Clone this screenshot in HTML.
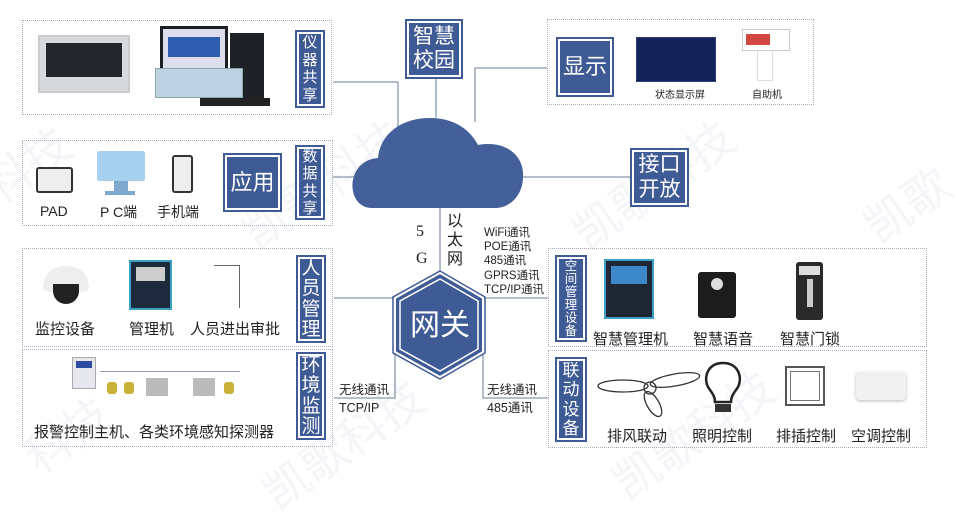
<!DOCTYPE html>
<html><head><meta charset="utf-8"><style>
*{margin:0;padding:0;box-sizing:border-box}
body{width:956px;height:476px;background:#fff;position:relative;overflow:hidden;font-family:"Liberation Sans","Noto Sans CJK SC",sans-serif;color:#222}
.a{position:absolute}
.box{position:absolute;border:1px dotted #aab}
.lab{position:absolute;background:#3f5b95;border:2px solid #3f5b95;box-shadow:inset 0 0 0 2px #fff;color:#fff;display:flex;align-items:center;justify-content:center;text-align:center;line-height:1.08}
.v{flex-direction:column;justify-content:space-evenly;line-height:1}
.v span{display:block}
.t{font-size:15px;white-space:nowrap}
.wm{position:absolute;color:rgba(120,130,160,0.08);font-size:46px;transform:rotate(-35deg);white-space:nowrap;font-family:"Noto Sans CJK SC",sans-serif}
</style></head><body>

<div class="wm" style="left:-20px;top:130px">科技</div>
<div class="wm" style="left:230px;top:150px">凯歌科技</div>
<div class="wm" style="left:560px;top:150px">凯歌科技</div>
<div class="wm" style="left:860px;top:170px">凯歌</div>
<div class="wm" style="left:20px;top:400px">科技</div>
<div class="wm" style="left:250px;top:410px">凯歌科技</div>
<div class="wm" style="left:600px;top:400px">凯歌科技</div>

<svg class="a" style="left:0;top:0" width="956" height="476">
<g stroke="#8a97ad" stroke-width="1.3" fill="none">
<path d="M333 82 H398 V128"/>
<path d="M436 79 V118"/>
<path d="M475 122 V68 H547"/>
<path d="M333 177 H356"/>
<path d="M522 177 H630"/>
<path d="M440 208 V273"/>
<path d="M334 298 H395 V352"/>
<path d="M395 352 V398 H334"/>
<path d="M548 298 H483 V352"/>
<path d="M483 352 V398 H548"/>
</g>
<path d="M372 208 C345 208 345 160 378 158 C380 135 400 118 430 118 C455 118 470 130 478 145 C505 140 525 155 523 178 C522 198 508 208 495 208 Z" fill="#43609a"/>
<polygon points="440,273 483,298 483,352 440,377 395,352 395,298" fill="#3f5b95" stroke="#fff" stroke-width="2"/>
<polygon points="440,279 478,301 478,349 440,371 400,349 400,301" fill="none" stroke="#fff" stroke-width="1.5"/>
<polygon points="440,271 485,297 485,353 440,379 393,353 393,297" fill="none" stroke="#3f5b95" stroke-width="1.5"/>
<text x="440" y="335" fill="#fff" font-size="30" text-anchor="middle" font-family="Noto Sans CJK SC,sans-serif">网关</text>
</svg>

<!-- Box1 instruments -->
<div class="box" style="left:22px;top:20px;width:310px;height:95px"></div>
<div class="a" style="left:38px;top:35px;width:92px;height:58px;background:#d7d9dc;border:2px solid #c9ccd0"><div style="margin:6px;height:34px;background:#23272b"></div></div>
<div class="a" style="left:160px;top:26px;width:68px;height:48px;background:#dde;border:3px solid #1b1e22"><div style="margin:8px 5px;height:20px;background:#2f5cae"></div></div>
<div class="a" style="left:230px;top:33px;width:34px;height:68px;background:#1e2125"></div>
<div class="a" style="left:155px;top:68px;width:88px;height:30px;background:#bdd2e0;border:1px solid #8aa"></div>
<div class="a" style="left:200px;top:98px;width:70px;height:8px;background:#222"></div>
<div class="lab v" style="left:295px;top:30px;width:30px;height:78px;font-size:15px"><span>仪</span><span>器</span><span>共</span><span>享</span></div>

<!-- Box2 application -->
<div class="box" style="left:22px;top:140px;width:311px;height:86px"></div>
<div class="a" style="left:36px;top:167px;width:37px;height:26px;border:2px solid #333;border-radius:3px;background:#eee"></div>
<div class="a t" style="left:40px;top:203px;font-size:14px">PAD</div>
<div class="a" style="left:97px;top:151px;width:48px;height:30px;background:#a8d0ef;border-radius:2px"></div>
<div class="a" style="left:114px;top:181px;width:14px;height:10px;background:#7fa9cc"></div>
<div class="a" style="left:105px;top:191px;width:30px;height:4px;background:#7fa9cc"></div>
<div class="a t" style="left:100px;top:202px;font-size:14px">P C端</div>
<div class="a" style="left:172px;top:155px;width:21px;height:38px;border:2px solid #333;border-radius:3px;background:#eee"></div>
<div class="a t" style="left:157px;top:202px;font-size:14px">手机端</div>
<div class="lab" style="left:223px;top:153px;width:59px;height:59px;font-size:22px">应用</div>
<div class="lab v" style="left:295px;top:145px;width:30px;height:75px;font-size:15px"><span>数</span><span>据</span><span>共</span><span>享</span></div>

<!-- Top center -->
<div class="lab" style="left:405px;top:19px;width:58px;height:60px;font-size:21px;line-height:1.15">智慧<br>校园</div>

<!-- Display -->
<div class="box" style="left:547px;top:19px;width:267px;height:86px"></div>
<div class="lab" style="left:556px;top:37px;width:58px;height:60px;font-size:22px">显示</div>
<div class="a" style="left:636px;top:37px;width:80px;height:45px;background:#152458;border:1px solid #2a3d7a"></div>
<div class="a" style="left:655px;top:86px;font-size:10px;white-space:nowrap">状态显示屏</div>
<div class="a" style="left:742px;top:29px;width:48px;height:22px;background:#fff;border:1px solid #ccc"><div style="margin:4px 3px;width:24px;height:11px;background:#d0473f"></div></div>
<div class="a" style="left:757px;top:51px;width:16px;height:30px;border:1px solid #ddd;border-top:none"></div>
<div class="a" style="left:752px;top:86px;font-size:10px;white-space:nowrap">自助机</div>

<div class="lab" style="left:630px;top:148px;width:59px;height:59px;font-size:21px;line-height:1.15">接口<br>开放</div>

<!-- center labels -->
<div class="a" style="left:416px;top:218px;font-family:'Liberation Serif',serif;font-size:16px;line-height:27px">5<br>G</div>
<div class="a" style="left:447px;top:212px;font-size:16px;line-height:19px">以<br>太<br>网</div>
<div class="a" style="left:484px;top:226px;font-size:11.5px;line-height:14.2px;white-space:nowrap">WiFi通讯<br>POE通讯<br>485通讯<br>GPRS通讯<br>TCP/IP通讯</div>
<div class="a" style="left:339px;top:381px;font-size:12.5px;line-height:18px;white-space:nowrap">无线通讯<br>TCP/IP</div>
<div class="a" style="left:487px;top:381px;font-size:12.5px;line-height:18px;white-space:nowrap">无线通讯<br>485通讯</div>

<!-- Box3 personnel -->
<div class="box" style="left:22px;top:248px;width:311px;height:99px"></div>
<div class="a" style="left:43px;top:266px;width:46px;height:26px;background:#eee;border-radius:23px 23px 6px 6px"></div>
<div class="a" style="left:53px;top:284px;width:26px;height:20px;background:#222;border-radius:0 0 13px 13px"></div>
<div class="a t" style="left:35px;top:318px">监控设备</div>
<div class="a" style="left:129px;top:260px;width:43px;height:50px;background:#1d2a3b;border:2px solid #3aa0c8"><div style="margin:5px;height:14px;background:#ccc"></div></div>
<div class="a t" style="left:129px;top:318px">管理机</div>
<div class="a" style="left:214px;top:265px;width:26px;height:43px;border:1px solid #666;border-left:none;border-bottom:none"></div>
<div class="a t" style="left:190px;top:318px">人员进出审批</div>
<div class="lab v" style="left:296px;top:255px;width:30px;height:88px;font-size:19px"><span>人</span><span>员</span><span>管</span><span>理</span></div>

<!-- Box4 environment -->
<div class="box" style="left:22px;top:349px;width:311px;height:98px"></div>
<div class="a" style="left:72px;top:357px;width:24px;height:32px;background:#e6e8ee;border:1px solid #aaa"><div style="margin:3px;height:7px;background:#2b4aa0"></div></div>
<div class="a" style="left:100px;top:371px;width:140px;height:1px;background:#99b"></div>
<div class="a" style="left:107px;top:382px;width:10px;height:12px;background:#c9b13a;border-radius:3px"></div>
<div class="a" style="left:124px;top:382px;width:10px;height:12px;background:#c9b13a;border-radius:3px"></div>
<div class="a" style="left:146px;top:378px;width:22px;height:18px;background:#bbb"></div>
<div class="a" style="left:193px;top:378px;width:22px;height:18px;background:#bbb"></div>
<div class="a" style="left:224px;top:382px;width:10px;height:12px;background:#c9b13a;border-radius:3px"></div>
<div class="a t" style="left:34px;top:421px">报警控制主机、各类环境感知探测器</div>
<div class="lab v" style="left:296px;top:352px;width:30px;height:88px;font-size:19px"><span>环</span><span>境</span><span>监</span><span>测</span></div>

<!-- Space management -->
<div class="box" style="left:548px;top:248px;width:379px;height:99px"></div>
<div class="a" style="left:555px;top:255px;width:32px;height:87px;background:#3f5b95;border:2px solid #3f5b95;box-shadow:inset 0 0 0 2px #fff;color:#fff;text-align:center;font-size:12.5px;line-height:13px;padding-top:3px">空<br>间<br>管<br>理<br>设<br>备</div>
<div class="a" style="left:604px;top:259px;width:50px;height:60px;background:#1e2733;border:2px solid #3aa0c8"><div style="margin:5px;height:18px;background:#3c88c8"></div></div>
<div class="a t" style="left:593px;top:328px">智慧管理机</div>
<div class="a" style="left:698px;top:272px;width:38px;height:46px;background:#1c1c1c;border-radius:3px"><div style="margin:6px auto;width:12px;height:12px;border-radius:6px;background:#ddd"></div></div>
<div class="a t" style="left:693px;top:328px">智慧语音</div>
<div class="a" style="left:796px;top:262px;width:27px;height:58px;background:#2a2a2a;border-radius:3px"><div style="margin:4px 3px;height:9px;background:#ddd"></div><div style="margin:4px auto;width:6px;height:28px;background:#ccc"></div></div>
<div class="a t" style="left:780px;top:328px">智慧门锁</div>

<!-- Linkage -->
<div class="box" style="left:548px;top:350px;width:379px;height:98px"></div>
<div class="lab v" style="left:555px;top:357px;width:32px;height:85px;font-size:17px"><span>联</span><span>动</span><span>设</span><span>备</span></div>
<svg class="a" style="left:595px;top:368px" width="115" height="50"><g fill="none" stroke="#333" stroke-width="1.3"><ellipse cx="28" cy="18" rx="25" ry="6"/><ellipse cx="80" cy="12" rx="25" ry="6" transform="rotate(-10 80 12)"/><ellipse cx="58" cy="36" rx="6" ry="14" transform="rotate(-30 58 36)"/><circle cx="55" cy="20" r="6"/></g></svg>
<svg class="a" style="left:700px;top:360px" width="46" height="56"><path d="M23 3 C8 3 3 17 8 27 C12 33 15 36 15 42 H31 C31 36 34 33 38 27 C43 17 38 3 23 3 Z" fill="none" stroke="#222" stroke-width="2.5"/><rect x="15" y="44" width="16" height="8" fill="#333"/></svg>
<div class="a" style="left:785px;top:366px;width:40px;height:40px;border:2px solid #555;box-shadow:inset 0 0 0 3px #fff,inset 0 0 0 4px #777"></div>
<div class="a" style="left:856px;top:372px;width:50px;height:28px;background:#f1f1f1;border-radius:4px;box-shadow:0 1px 3px #bbb"></div>
<div class="a t" style="left:607px;top:425px">排风联动</div>
<div class="a t" style="left:692px;top:425px">照明控制</div>
<div class="a t" style="left:776px;top:425px">排插控制</div>
<div class="a t" style="left:851px;top:425px">空调控制</div>

</body></html>
